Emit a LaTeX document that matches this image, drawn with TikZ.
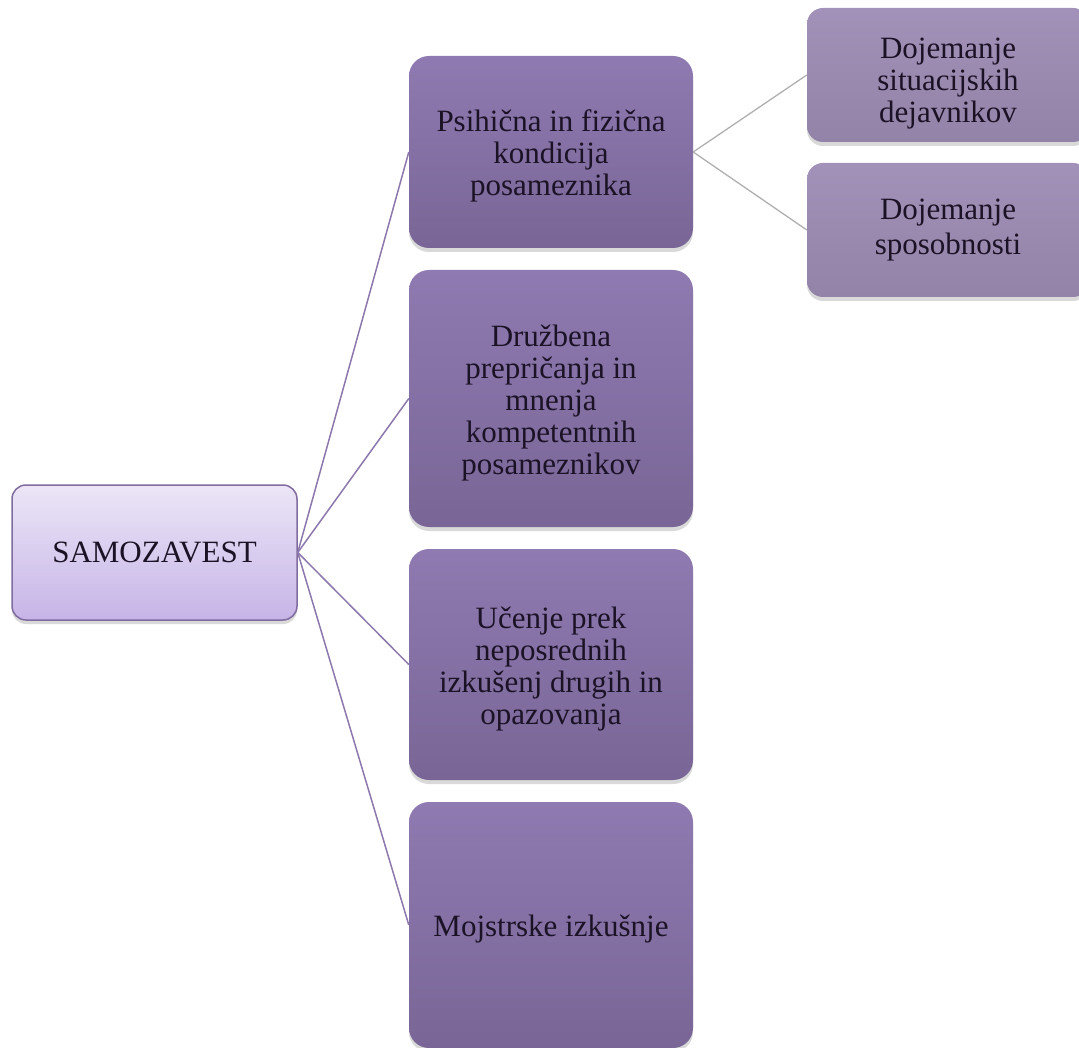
\documentclass[tikz,border=0pt]{standalone}
\usepackage{fontspec}
\setmainfont{Liberation Serif}
\usetikzlibrary{shadows}
\definecolor{midtop}{RGB}{143,122,177}
\definecolor{midbot}{RGB}{121,102,150}
\definecolor{righttop}{RGB}{162,145,184}
\definecolor{rightbot}{RGB}{148,131,168}
\definecolor{roottop}{RGB}{236,230,247}
\definecolor{rootbot}{RGB}{198,180,231}
\definecolor{rootborder}{RGB}{128,108,158}
\definecolor{txtcol}{RGB}{28,18,38}
\definecolor{linkpurple}{RGB}{140,120,172}
\definecolor{linkgrey}{RGB}{175,175,178}
\newcommand\pushtxtdown[1]{\mbox{}\\[#1]}
\begin{document}
\begin{tikzpicture}[x=1pt,y=-1pt,
  basebox/.style={inner sep=0pt, align=center, text=txtcol,
    font=\fontsize{31}{32}\selectfont,
    drop shadow={opacity=0.3, shadow xshift=0pt, shadow yshift=-4pt}},
  rootbox/.style={basebox, rounded corners=14pt, draw=rootborder, line width=1.5pt,
    top color=roottop, bottom color=rootbot,
    minimum width=285pt, minimum height=135pt},
  midbox/.style={basebox, rounded corners=20pt, top color=midtop, bottom color=midbot,
    minimum width=284pt},
  rightbox/.style={basebox, rounded corners=16pt, top color=righttop, bottom color=rightbot,
    minimum width=282pt, minimum height=134pt},
  linkA/.style={draw=linkpurple, line width=1.5pt},
  linkB/.style={draw=linkgrey, line width=1.3pt}]
\useasboundingbox (0,0) rectangle (1079,1048);
\clip (0,0) rectangle (1079,1048);

\node[rootbox] (root) at (154.5,552.5) {SAMOZAVEST};

\node[midbox, minimum height=192pt] (m1) at (551,152)
  {\pushtxtdown{-2pt}Psihična in fizična\\kondicija\\posameznika};
\node[midbox, minimum height=257pt] (m2) at (551,398.5)
  {\pushtxtdown{-2pt}Družbena\\prepričanja in\\mnenja\\kompetentnih\\posameznikov};
\node[midbox, minimum height=231pt] (m3) at (551,664.5)
  {\pushtxtdown{-2pt}Učenje prek\\neposrednih\\izkušenj drugih in\\opazovanja};
\node[midbox, minimum height=246pt] (m4) at (551,925)
  {\pushtxtdown{-2pt}Mojstrske izkušnje};

\node[rightbox] (r1) at (948,75)
  {\pushtxtdown{6pt}Dojemanje\\situacijskih\\dejavnikov};
\node[rightbox] (r2) at (948,230)
  {Dojemanje\\[3pt]sposobnosti};

\draw[linkA] (root.east) -- (m1.west);
\draw[linkA] (root.east) -- (m2.west);
\draw[linkA] (root.east) -- (m3.west);
\draw[linkA] (root.east) -- (m4.west);
\draw[linkB] (m1.east) -- (r1.west);
\draw[linkB] (m1.east) -- (r2.west);
\end{tikzpicture}
\end{document}
